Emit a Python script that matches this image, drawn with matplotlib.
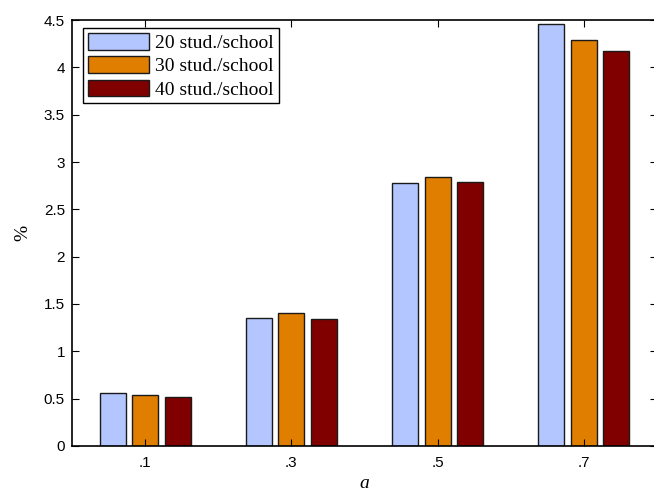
import numpy as np
import matplotlib
matplotlib.use('Agg')
import matplotlib.pyplot as plt
from matplotlib.patches import Rectangle
from matplotlib.legend_handler import HandlerPatch

# values
a_vals = [0.1, 0.3, 0.5, 0.7]
a_labels = ['.1', '.3', '.5', '.7']
series = ['20 stud./school', '30 stud./school', '40 stud./school']
stud20 = [0.56, 1.35, 2.78, 4.46]
stud30 = [0.54, 1.40, 2.84, 4.29]
stud40 = [0.52, 1.34, 2.79, 4.17]
colors = ['#B3C6FF', '#E07E00', '#800000']

fig = plt.figure(figsize=(6.54, 4.91), dpi=100)
ax = fig.add_axes([0.110, 0.092, 0.8945, 0.867])

x = np.array(a_vals)
w = 0.0355
off = 0.0444
for i, (vals, lab) in enumerate(zip([stud20, stud30, stud40], series)):
    ax.bar(x + (i - 1) * off, vals, width=w, color=colors[i], edgecolor='#1a1a1a',
           linewidth=1.0, label=lab)

ax.set_xlim(0, 0.8)
ax.set_ylim(0, 4.5)
ax.set_xticks(a_vals)
ax.set_xticklabels(a_labels)
ax.set_yticks(np.arange(0, 4.51, 0.5))
ax.set_yticklabels(['0', '0.5', '1', '1.5', '2', '2.5', '3', '3.5', '4', '4.5'])
ax.tick_params(direction='in', top=True, right=True, length=5, labelsize=11)
ax.tick_params(axis='x', pad=7)
ax.tick_params(axis='y', pad=5)
for lbl in ax.get_xticklabels() + ax.get_yticklabels():
    lbl.set_family('Liberation Sans')
for s in ax.spines.values():
    s.set_linewidth(1.2)

ax.set_xlabel('a', family='Liberation Serif', style='italic', fontsize=14, labelpad=4)
ax.set_ylabel('%', family='Liberation Serif', fontsize=14, labelpad=9)


# legend patch shifted right inside its handle box (extra left padding)
def shifted_patch(legend, orig_handle, xdescent, ydescent, width, height, fontsize):
    shift = 4.3
    return Rectangle((-xdescent + shift, -ydescent), width - shift, height)


leg = ax.legend(loc='upper left',
                prop={'family': 'Liberation Serif', 'size': 14},
                fancybox=False, edgecolor='black', framealpha=1,
                handlelength=3.16, handleheight=0.95, borderpad=0.25,
                labelspacing=0.22, handletextpad=0.3, borderaxespad=0,
                handler_map={Rectangle: HandlerPatch(patch_func=shifted_patch)})
leg.set_bbox_to_anchor((83 / 654, 1 - 28 / 491), transform=fig.transFigure)
leg.get_frame().set_linewidth(1.0)

fig.savefig('out.png', dpi=100)
